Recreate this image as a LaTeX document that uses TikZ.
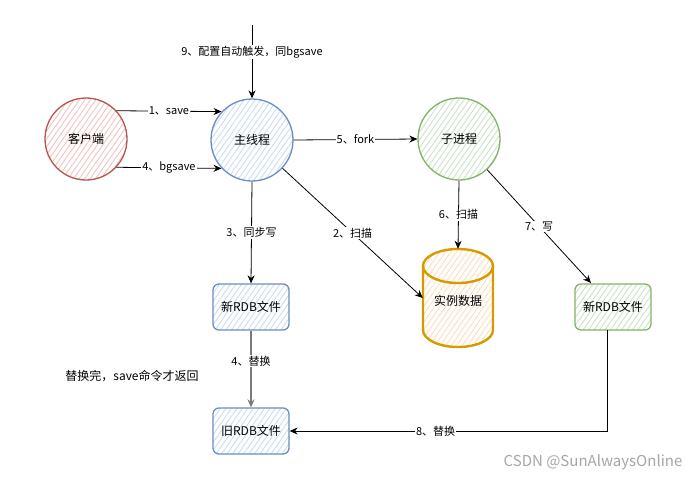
\documentclass[tikz,border=0pt]{standalone}
\usepackage{fontspec}
\setmainfont{Noto Sans CJK SC}
\usetikzlibrary{arrows.meta,patterns.meta,calc}
\definecolor{redS}{HTML}{B85450}
\definecolor{redF}{HTML}{F2C4C2}
\definecolor{blueS}{HTML}{6C8EBF}
\definecolor{blueF}{HTML}{CBDDF5}
\definecolor{greenS}{HTML}{82B366}
\definecolor{greenF}{HTML}{CCE3C9}
\definecolor{orangeS}{HTML}{D79B00}
\definecolor{orangeF}{HTML}{FFDDBB}
\definecolor{wmark}{HTML}{A6A6A6}
\definecolor{grayA}{HTML}{7A7A7A}
\tikzset{
  hatch/.style={pattern={Lines[angle=55,distance=4.5pt,line width=0.9pt]},pattern color=#1},
  nodefont/.style={font=\fontsize{12}{14}\selectfont},
  roundnode/.style={circle,minimum size=82pt,inner sep=0pt,line width=1.3pt,nodefont},
  filebox/.style={rectangle,rounded corners=6pt,minimum width=76pt,minimum height=46pt,inner sep=0pt,line width=1.3pt,nodefont},
  conn/.style={-{Stealth[length=8pt,width=7pt]},line width=0.8pt,black},
  lbl/.style={font=\fontsize{11}{13}\selectfont,fill=white,inner sep=1pt}
}
\begin{document}
\begin{tikzpicture}[x=1pt,y=-1pt]
\useasboundingbox[fill=white] (0,0) rectangle (698,480);

% circles
\node[roundnode,draw=redS,hatch=redF] (client) at (86,139) {客户端};
\node[roundnode,draw=blueS,hatch=blueF] (main) at (252,140) {主线程};
\node[roundnode,draw=greenS,hatch=greenF] (sub) at (459,139) {子进程};

% cylinder
\path[hatch=orangeF] (423,266) -- (423,330) arc[start angle=180,end angle=360,x radius=35pt,y radius=17pt] -- (493,266) arc[start angle=0,end angle=180,x radius=35pt,y radius=17pt] -- cycle;
\draw[orangeS,line width=2.4pt] (423,266) -- (423,330) arc[start angle=180,end angle=360,x radius=35pt,y radius=17pt] -- (493,266) arc[start angle=0,end angle=180,x radius=35pt,y radius=17pt] -- cycle;
\draw[orangeS,line width=2.4pt] (423,266) arc[start angle=180,end angle=360,x radius=35pt,y radius=17pt];
\node[nodefont,minimum width=70pt,minimum height=98pt,inner sep=0pt] (db) at (458,298) {};
\node[nodefont] (dbtext) at (458,301) {实例数据};

% file boxes
\node[filebox,draw=blueS,hatch=blueF] (newb) at (251,307) {新RDB文件};
\node[filebox,draw=greenS,hatch=greenF] (newg) at (613,307) {新RDB文件};
\node[filebox,draw=blueS,hatch=blueF] (old) at (251,431) {旧RDB文件};

% free ends
\coordinate (top9) at (252,25);
\coordinate (t7) at (591,283);
\coordinate (s8) at (607,330);

% connectors
\draw[conn] (top9) -- node[lbl,pos=0.37]{9、配置自动触发，同bgsave} (main.north);
\draw[conn] (client.43) -- node[lbl]{1、save} (main.137);
\draw[conn] (client.-43) -- node[lbl]{4、bgsave} (main.-137);
\draw[conn] (main.east) -- node[lbl]{5、fork} (sub.west);
\draw[conn] (main.south) -- node[lbl]{3、同步写} (newb.north);
\draw[conn] (main) -- node[lbl]{2、扫描} (db.west);
\draw[conn] (sub.south) -- node[lbl]{6、扫描} (db.north);
\draw[conn] (sub) -- node[lbl]{7、写} (t7);
\draw[-{Stealth[length=8pt,width=7pt]},line width=1.8pt,grayA] (newb.south) -- node[lbl,pos=0.4,text=black]{4、替换} (old.north);
\draw[conn] (s8) |- node[lbl,pos=0.77]{8、替换} (old.east);

% free texts
\node[nodefont] (note) at (132,376) {替换完，save命令才返回};
\node[font=\fontsize{15}{18}\selectfont,text=wmark] (wm) at (593,462) {CSDN @SunAlwaysOnline};
\end{tikzpicture}
\end{document}
